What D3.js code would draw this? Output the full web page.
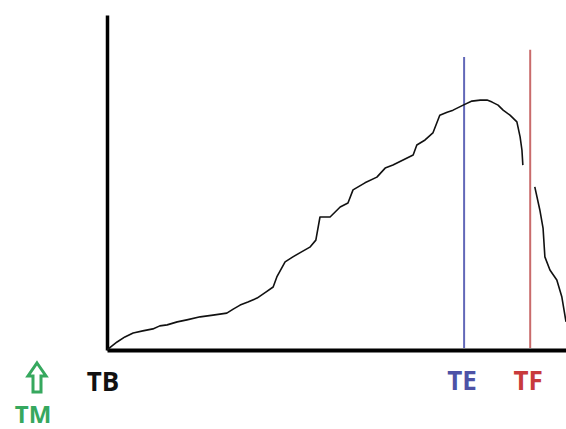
<!DOCTYPE html>
<html>
<head>
<meta charset="utf-8">
<script src="https://cdn.jsdelivr.net/npm/d3@7"></script>
<style>
body{margin:0;background:#fff;}
svg{display:block;}
</style>
</head>
<body>
<svg id="display" width="566" height="429"></svg>
<script>
// curve values (time, level); null = gap in the pen stroke
const curve_t=[0,1.1,2.2,3.9,5.7,7.8,10.0,11.5,13.1,15.3,17.4,20.3,23.1,26.1,27.5,29.0,30.7,32.7,34.6,36.2,37.0,38.8,40.5,42.0,44.2,45.5,46.4,48.6,50.8,52.5,53.6,56.2,58.8,60.6,62.3,64.5,66.7,67.5,69.3,71.0,72.5,74.1,75.4,77.6,79.5,81.3,82.8,83.9,85.2,86.3,87.8,89.3,90.0,90.4,90.6,91.9,93.2,94.3,95.0,95.4,96.5,98.0,99.1,100];
const curve_v=[0,1.2,2.4,3.9,5.1,5.7,6.3,7.2,7.5,8.4,9.0,9.9,10.4,11.0,12.2,13.4,14.3,15.5,17.3,18.8,21.8,26.3,27.8,29.0,30.7,32.8,39.7,39.7,42.7,43.9,47.8,49.9,51.6,54.3,55.2,56.7,58.2,61.2,62.7,64.8,70.1,71.0,71.6,73.1,74.3,74.6,74.6,74.0,73.1,71.6,70.1,68.1,63.6,59.7,55.2,null,48.7,41.8,36.4,27.8,23.9,20.9,15.8,8.4];

// vertical markers
const marker_names=["TE","TF"];
const marker_t=[77.8,92.2];
const marker_top=[87.5,89.6];
const marker_line_colors=["#6268b8","#c96b6b"];
const marker_text_colors=["#4d52a6","#c83a3c"];

const display=d3.select("#display");
const x=d3.scaleLinear().domain([0,100]).range([107,566]);
const y=d3.scaleLinear().domain([0,100]).range([350,15]);

// axes without ticks
display.append("g")
    .attr("transform","translate(0,"+y(0)+")")
    .call(d3.axisBottom(x).tickValues([]).tickSizeOuter(0))
    .select(".domain").attr("stroke","#000").attr("stroke-width",4);
display.append("g")
    .attr("transform","translate("+x(0)+",0)")
    .call(d3.axisLeft(y).tickValues([]).tickSizeOuter(0))
    .select(".domain").attr("stroke","#000").attr("stroke-width",3.5);

// marker lines
for (let i=0;i<marker_names.length;i++){
    display.append("line")
        .attr("x1",x(marker_t[i]))
        .attr("x2",x(marker_t[i]))
        .attr("y1",y(marker_top[i]))
        .attr("y2",y(0)-2)
        .attr("stroke",marker_line_colors[i])
        .attr("stroke-width",2);
}

// curve
const pts=curve_t.map((t,i)=>[t,curve_v[i]]);
display.append("path")
    .datum(pts)
    .attr("d",d3.line().defined(d=>d[1]!==null).x(d=>x(d[0])).y(d=>y(d[1])))
    .attr("fill","none")
    .attr("stroke","#111")
    .attr("stroke-width",1.6)
    .attr("stroke-linejoin","round");

// labels
const label_font="'Open Sans', 'Liberation Sans', sans-serif";
display.append("text")
    .attr("x",x(0)-4)
    .attr("y",391)
    .attr("text-anchor","middle")
    .style("font-family",label_font)
    .style("font-weight","700")
    .style("font-size","26px")
    .style("fill","#111")
    .text("TB");
for (let i=0;i<marker_names.length;i++){
    display.append("text")
        .attr("x",x(marker_t[i])-2)
        .attr("y",390)
        .attr("text-anchor","middle")
        .style("font-family",label_font)
        .style("font-weight","700")
        .style("font-size","26px")
        .style("fill",marker_text_colors[i])
        .text(marker_names[i]);
}

// TM with hollow up arrow
const green="#36a85e";
const arrow=display.append("g").attr("transform","translate(37,362)");
arrow.append("path")
    .attr("d","M0,1 L9,14 L4,14 L4,30 L-4,30 L-4,14 L-9,14 Z")
    .attr("fill","#fff")
    .attr("stroke",green)
    .attr("stroke-width",3)
    .attr("stroke-linejoin","miter");
display.append("text")
    .attr("x",33)
    .attr("y",423)
    .attr("text-anchor","middle")
    .style("font-family",label_font)
    .style("font-weight","700")
    .style("font-size","24px")
    .style("fill",green)
    .text("TM");
</script>
</body>
</html>
